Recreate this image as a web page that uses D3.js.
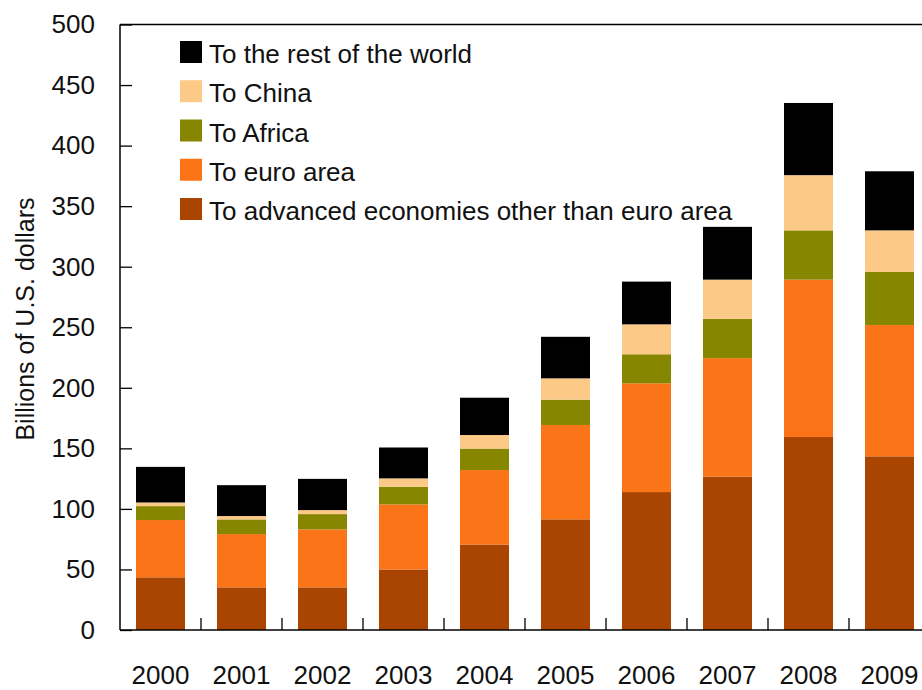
<!DOCTYPE html>
<html>
<head>
<meta charset="utf-8">
<script src="https://cdn.jsdelivr.net/npm/d3@7"></script>
<style>
  html, body { margin: 0; padding: 0; background: #fff; }
  svg { display: block; font-family: "Liberation Sans", Arial, sans-serif; }
</style>
</head>
<body>
<svg id="chart" width="922" height="690"></svg>
<script>
// ---- data (billions of U.S. dollars) ----
const years = ["2000","2001","2002","2003","2004","2005","2006","2007","2008","2009"];
const advanced = [43.5, 35.2, 35.2, 50.0, 70.6, 91.4, 113.9, 126.7, 159.4, 143.4];
const euroArea = [47.3, 44.0, 47.9, 53.7, 61.5, 77.9, 89.8, 97.8, 129.9, 108.4];
const africa   = [11.5, 12.1, 12.6, 14.6, 17.7, 20.9, 24.0, 32.4, 40.7, 43.9];
const china    = [3.0, 2.8, 3.3, 6.9, 11.2, 17.6, 24.7, 32.4, 45.6, 34.3];
const restOfWorld = [29.4, 25.5, 25.8, 25.5, 30.8, 34.3, 35.3, 43.6, 59.6, 48.8];
const seriesKeys = ["advanced", "euro", "africa", "china", "rest"];
const seriesLabels = ["To advanced economies other than euro area", "To euro area", "To Africa", "To China", "To the rest of the world"];
const seriesColors = ["#A94500", "#FB7418", "#878600", "#FDC986", "#000000"];
const yTicks = [0, 50, 100, 150, 200, 250, 300, 350, 400, 450, 500];
const yTitle = "Billions of U.S. dollars";

const table = years.map((yr, i) => ({
  year: yr, advanced: advanced[i], euro: euroArea[i], africa: africa[i], china: china[i], rest: restOfWorld[i]
}));

const svg = d3.select("#chart");
const plotLeft = 120, plotRight = 930, plotTop = 24.5, plotBottom = 630;

const x = d3.scaleBand().domain(years).range([plotLeft, plotRight]).paddingInner(0.395).paddingOuter(0.1975);
const y = d3.scaleLinear().domain([0, 500]).range([plotBottom, plotTop]);
const color = d3.scaleOrdinal().domain(seriesKeys).range(seriesColors);

const stacked = d3.stack().keys(seriesKeys)(table);

// bars
svg.append("g").selectAll("g").data(stacked).join("g")
  .attr("fill", d => color(d.key))
  .selectAll("rect").data(d => d).join("rect")
  .attr("x", d => x(d.data.year))
  .attr("width", x.bandwidth())
  .attr("y", d => y(d[1]))
  .attr("height", d => y(d[0]) - y(d[1]));

// y axis (inward ticks)
const yAxis = svg.append("g").attr("transform", `translate(${plotLeft},0)`)
  .call(d3.axisLeft(y).tickValues(yTicks).tickSize(-12).tickPadding(25));
yAxis.select(".domain").remove();
yAxis.selectAll(".tick line").attr("stroke", "#000").attr("stroke-width", 1.3);
yAxis.selectAll("text").attr("font-size", 26).attr("fill", "#111");

// x axis labels
const xAxis = svg.append("g").attr("transform", `translate(0,${plotBottom})`)
  .call(d3.axisBottom(x).tickSize(0).tickPadding(35.5));
xAxis.select(".domain").remove();
xAxis.selectAll("text").attr("font-size", 26).attr("fill", "#111");

// category boundary ticks (pointing up)
const gap = x.step() - x.bandwidth();
svg.append("g").selectAll("line").data(years.slice(0, -1)).join("line")
  .attr("x1", d => x(d) + x.bandwidth() + gap / 2)
  .attr("x2", d => x(d) + x.bandwidth() + gap / 2)
  .attr("y1", plotBottom).attr("y2", plotBottom - 12)
  .attr("stroke", "#000").attr("stroke-width", 1.3);

// frame: left, bottom, top
const frame = svg.append("g").attr("stroke", "#000").attr("stroke-width", 1.5).attr("fill", "none");
frame.append("line").attr("x1", plotLeft).attr("x2", plotLeft).attr("y1", y(500)).attr("y2", y(0));
frame.append("line").attr("x1", plotLeft).attr("x2", plotRight).attr("y1", y(0)).attr("y2", y(0));
frame.append("line").attr("x1", plotLeft).attr("x2", plotRight).attr("y1", y(500)).attr("y2", y(500));

// y title
svg.append("text")
  .attr("transform", `translate(34,319) rotate(-90)`)
  .attr("text-anchor", "middle")
  .attr("font-size", 25).attr("fill", "#111")
  .text(yTitle);

// legend (top to bottom: rest, China, Africa, euro, advanced)
const legendOrder = seriesKeys.slice().reverse();
const legend = svg.append("g").selectAll("g").data(legendOrder).join("g")
  .attr("transform", (d, i) => `translate(180,${63 + i * 39.25})`);
legend.append("rect").attr("x", 0).attr("y", -22).attr("width", 22).attr("height", 22)
  .attr("fill", d => color(d));
legend.append("text").attr("x", 29).attr("y", 0)
  .attr("font-size", 26).attr("fill", "#111")
  .text(d => seriesLabels[seriesKeys.indexOf(d)]);
</script>
</body>
</html>
